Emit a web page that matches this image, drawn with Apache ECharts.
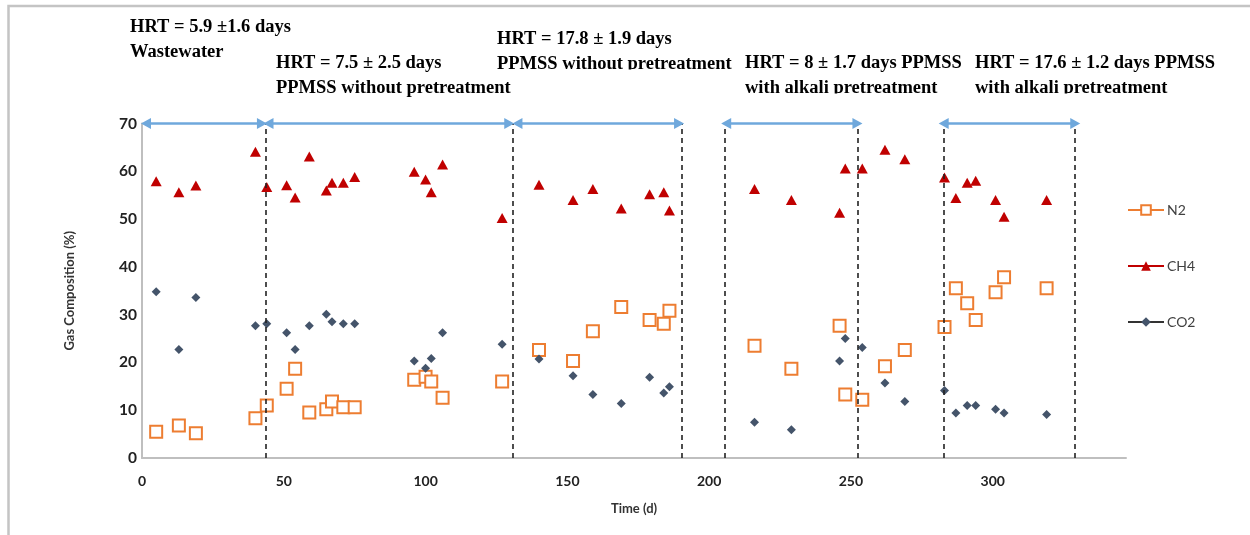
<!DOCTYPE html>
<html>
<head>
<meta charset="utf-8">
<title>Gas composition over time</title>
<script src="https://cdn.jsdelivr.net/npm/echarts@6/dist/echarts.min.js"></script>
<style>
  html, body { margin: 0; padding: 0; background: #fff; }
  #chart { width: 1250px; height: 535px; }
</style>
</head>
<body>
<div id="chart"></div>
<script>
// Sampling days (d)
const timeDays = [5, 13, 19, 40, 44, 51, 54, 59, 65, 67, 71, 75, 96, 100, 102, 106, 127,
  140, 152, 159, 169, 179, 184, 186, 216, 229, 246, 248, 254, 262, 269,
  283, 287, 291, 294, 301, 304, 319];

// Gas composition (%)
const n2 = [5.5, 6.8, 5.2, 8.3, 11.0, 14.5, 18.7, 9.5, 10.2, 11.8, 10.6, 10.6, 16.4, 17.0, 16.0, 12.6, 16.0,
  22.6, 20.3, 26.5, 31.6, 28.9, 28.1, 30.8, 23.5, 18.7, 27.7, 13.3, 12.2, 19.2, 22.6,
  27.4, 35.5, 32.4, 28.9, 34.7, 37.8, 35.5];
const ch4 = [57.9, 55.6, 57.0, 64.1, 56.7, 57.1, 54.5, 63.1, 56.0, 57.6, 57.6, 58.8, 59.9, 58.3, 55.6, 61.4, 50.2,
  57.2, 54.0, 56.3, 52.2, 55.2, 55.6, 51.8, 56.3, 54.0, 51.3, 60.6, 60.6, 64.5, 62.5,
  58.7, 54.4, 57.6, 58.0, 54.0, 50.5, 54.0];
const co2 = [34.8, 22.7, 33.6, 27.7, 28.1, 26.2, 22.7, 27.7, 30.1, 28.5, 28.1, 28.1, 20.3, 18.8, 20.8, 26.2, 23.8,
  20.7, 17.2, 13.3, 11.4, 16.9, 13.6, 14.9, 7.5, 5.9, 20.3, 25.0, 23.1, 15.7, 11.8,
  14.1, 9.4, 11.0, 11.0, 10.2, 9.4, 9.1];

// Operating-period boundaries (d) and the span of each period arrow
const periodBounds = [43.5, 130.7, 190.3, 205.6, 252.5, 282.7, 329.1];
const periodSpans = [[1.4, 42.3], [44.6, 129.5], [132.4, 189.4], [206.0, 252.3], [282.7, 329.1]];

// Period captions: [line1, line2, left px, line1 centre px, line2 centre px, clip line2]
const periodCaptions = [
  ['HRT = 5.9 \u00b11.6 days', 'Wastewater', 130, 27.5, 52.5, false],
  ['HRT = 7.5 \u00b1 2.5 days', 'PPMSS without pretreatment', 276, 63.5, 88.5, false],
  ['HRT = 17.8 \u00b1 1.9 days', 'PPMSS without pretreatment', 497, 39.5, 64.5, true],
  ['HRT = 8 \u00b1 1.7 days PPMSS', 'with alkali pretreatment', 745, 63.5, 88.5, true],
  ['HRT = 17.6 \u00b1 1.2 days PPMSS', 'with alkali pretreatment', 975, 63.5, 88.5, true]
];

const colN2 = '#ED7D31';
const colCH4 = '#C00000';
const colCO2 = '#44546A';
const sansFont = 'Lato, "Open Sans", sans-serif';
const serifBold = 'bold 18.5px "Liberation Serif", "DejaVu Serif", serif';

const pairs = ys => timeDays.map((t, i) => [t, ys[i]]);

const graphics = [
  {
    type: 'polyline', silent: true,
    shape: { points: [[8.5, 535], [8.5, 6], [1250, 6]] },
    style: { stroke: '#c4c4c4', lineWidth: 2.5, fill: null }
  }
];
periodCaptions.forEach(c => {
  graphics.push({
    type: 'text', silent: true, x: c[2], y: c[3],
    style: { text: c[0], font: serifBold, fill: '#000', verticalAlign: 'middle', textVerticalAlign: 'middle' }
  });
  graphics.push({
    type: 'text', silent: true, x: c[2], y: c[4],
    style: { text: c[1], font: serifBold, fill: '#000', verticalAlign: 'middle', textVerticalAlign: 'middle' }
  });
  if (c[5]) {
    // the second caption line sits in a box that trims its lower edge
    graphics.push({
      type: 'rect', silent: true, z: 10,
      shape: { x: c[2] - 2, y: c[4] + 5, width: 250, height: 10 },
      style: { fill: '#fff' }
    });
  }
});

const chart = echarts.init(document.getElementById('chart'), null, { renderer: 'canvas' });

chart.setOption({
  animation: false,
  backgroundColor: '#fff',
  grid: { left: 142, top: 123.5, width: 984, height: 334.5, containLabel: false },
  xAxis: {
    type: 'value', min: 0, max: 347, interval: 50,
    name: 'Time (d)', nameLocation: 'middle', nameGap: 44,
    nameTextStyle: { fontFamily: sansFont, fontSize: 13, fontWeight: 'bold', color: '#333' },
    axisLine: { show: true, lineStyle: { color: '#bfbfbf', width: 2 } },
    axisTick: { show: false },
    splitLine: { show: false },
    axisLabel: { showMaxLabel: false, margin: 16, fontFamily: sansFont, fontSize: 14, fontWeight: 'bold', color: '#222' }
  },
  yAxis: {
    type: 'value', min: 0, max: 70, interval: 10,
    name: 'Gas Composition (%)', nameLocation: 'middle', nameGap: 66,
    nameTextStyle: { fontFamily: sansFont, fontSize: 13, fontWeight: 'bold', color: '#333' },
    axisLine: { show: true, lineStyle: { color: '#bfbfbf', width: 2 } },
    axisTick: { show: false },
    splitLine: { show: false },
    axisLabel: { margin: 5, fontFamily: sansFont, fontSize: 15.5, fontWeight: 'bold', color: '#222' }
  },
  legend: {
    orient: 'vertical', left: 1127, top: 203, itemGap: 42,
    itemWidth: 36, itemHeight: 12,
    textStyle: { fontFamily: sansFont, fontSize: 14, color: '#404040', padding: [0, 0, 0, -2] },
    data: [
      { name: 'N2', lineStyle: { color: colN2, width: 2, opacity: 1 } },
      { name: 'CH4', lineStyle: { color: colCH4, width: 2, opacity: 1 } },
      { name: 'CO2', lineStyle: { color: '#333', width: 2, opacity: 1 } }
    ],
    padding: 0
  },
  graphic: graphics,
  series: [
    {
      name: 'periods', type: 'scatter', data: [], silent: true,
      markLine: {
        silent: true, symbol: 'none', animation: false,
        label: { show: false },
        lineStyle: { color: '#222', width: 1.6, type: [5, 4] },
        data: periodBounds.map(x => ({ xAxis: x }))
      }
    },
    {
      name: 'spans', type: 'scatter', data: [], silent: true,
      markLine: {
        silent: true, symbol: ['triangle', 'triangle'], symbolSize: [11, 10], animation: false,
        label: { show: false },
        lineStyle: { color: '#6FA8DC', width: 2.5, type: 'solid' },
        data: periodSpans.map(s => [{ coord: [s[0], 70] }, { coord: [s[1], 70] }])
      }
    },
    {
      name: 'N2', type: 'line', data: pairs(n2),
      symbol: 'emptyRect', symbolSize: 12, showSymbol: true,
      itemStyle: { color: colN2, borderWidth: 2 },
      lineStyle: { width: 0, opacity: 0 }, z: 3
    },
    {
      name: 'CH4', type: 'line', data: pairs(ch4),
      symbol: 'triangle', symbolSize: [11, 10], showSymbol: true,
      itemStyle: { color: colCH4 },
      lineStyle: { width: 0, opacity: 0 }, z: 3
    },
    {
      name: 'CO2', type: 'line', data: pairs(co2),
      symbol: 'diamond', symbolSize: [9, 9], showSymbol: true,
      itemStyle: { color: colCO2 },
      lineStyle: { width: 0, opacity: 0 }, z: 3
    }
  ]
});
</script>
</body>
</html>
